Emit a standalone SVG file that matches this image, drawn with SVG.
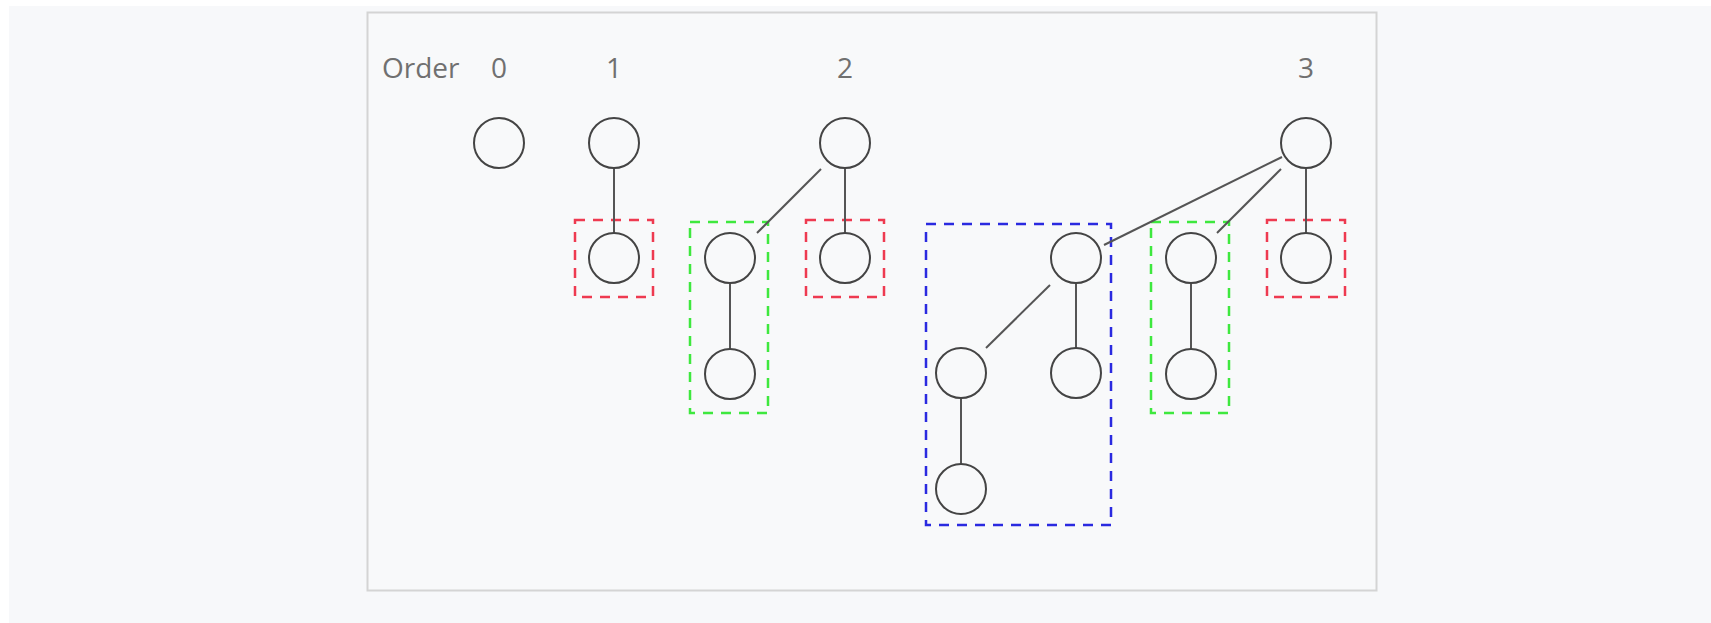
<svg xmlns="http://www.w3.org/2000/svg" width="1711" height="623" viewBox="0 0 1711 623">
  <style>
    .lbl { font-family: "Open Sans", "Liberation Sans", sans-serif; font-size: 28px; fill: #707070; }
    .num { text-anchor: middle; }
    .node circle { fill: none; stroke: #444; stroke-width: 2; }
    .edge { stroke: #555; stroke-width: 2; fill: none; }
    .box { fill: none; stroke-width: 2.5; stroke-dasharray: 10 8; }
    .red { stroke: #ee3a50; }
    .green { stroke: #3ee83e; }
    .blue { stroke: #2a2ae0; }
  </style>
  <rect x="0" y="0" width="1711" height="623" fill="#ffffff"/>
  <rect x="9" y="6" width="1702" height="617" fill="#f7f8fa"/>
  <rect x="367.5" y="12.5" width="1009" height="578" fill="#f8f9fa" stroke="#d4d4d4" stroke-width="2"/>

  <g id="labels">
    <text class="lbl" x="382" y="78">Order</text>
    <text class="lbl num" x="499" y="78">0</text>
    <text class="lbl num" x="614" y="78">1</text>
    <text class="lbl num" x="845" y="78">2</text>
    <text class="lbl num" x="1306" y="78">3</text>
  </g>

  <g id="groups">
    <rect id="box-red-1" class="box red" x="575" y="220" width="78" height="77"/>
    <rect id="box-green-2" class="box green" x="690" y="222" width="78" height="191"/>
    <rect id="box-red-2" class="box red" x="806" y="220" width="78" height="77"/>
    <rect id="box-blue-3" class="box blue" x="926" y="224" width="185" height="301"/>
    <rect id="box-green-3" class="box green" x="1151" y="222" width="78" height="191"/>
    <rect id="box-red-3" class="box red" x="1267" y="220" width="78" height="77"/>
  </g>

  <g id="connectors">
    <line class="edge" x1="614" y1="168" x2="614" y2="233"/>
    <line class="edge" x1="845" y1="168" x2="845" y2="233"/>
    <line class="edge" x1="821" y1="169" x2="757" y2="233"/>
    <line class="edge" x1="730" y1="283" x2="730" y2="349"/>
    <line class="edge" x1="1306" y1="168" x2="1306" y2="233"/>
    <line class="edge" x1="1282" y1="157" x2="1104" y2="245"/>
    <line class="edge" x1="1281" y1="169" x2="1217" y2="233"/>
    <line class="edge" x1="1076" y1="283" x2="1076" y2="348"/>
    <line class="edge" x1="1050" y1="285" x2="986" y2="348"/>
    <line class="edge" x1="961" y1="398" x2="961" y2="464"/>
    <line class="edge" x1="1191" y1="283" x2="1191" y2="349"/>
  </g>

  <g id="n0" class="node"><circle cx="499" cy="143" r="25"/></g>
  <g id="n1" class="node"><circle cx="614" cy="143" r="25"/></g>
  <g id="n1a" class="node"><circle cx="614" cy="258" r="25"/></g>
  <g id="n2" class="node"><circle cx="845" cy="143" r="25"/></g>
  <g id="n2a" class="node"><circle cx="730" cy="258" r="25"/></g>
  <g id="n2b" class="node"><circle cx="730" cy="374" r="25"/></g>
  <g id="n2c" class="node"><circle cx="845" cy="258" r="25"/></g>
  <g id="n3" class="node"><circle cx="1306" cy="143" r="25"/></g>
  <g id="n3a" class="node"><circle cx="1076" cy="258" r="25"/></g>
  <g id="n3b" class="node"><circle cx="961" cy="373" r="25"/></g>
  <g id="n3c" class="node"><circle cx="1076" cy="373" r="25"/></g>
  <g id="n3d" class="node"><circle cx="961" cy="489" r="25"/></g>
  <g id="n3e" class="node"><circle cx="1191" cy="258" r="25"/></g>
  <g id="n3f" class="node"><circle cx="1191" cy="374" r="25"/></g>
  <g id="n3g" class="node"><circle cx="1306" cy="258" r="25"/></g>
</svg>
